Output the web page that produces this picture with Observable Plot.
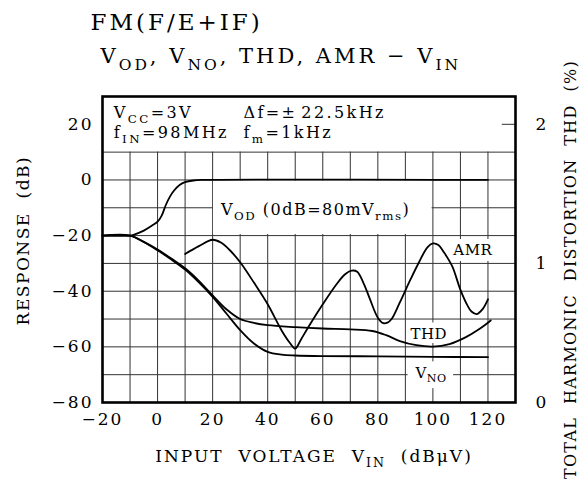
<!DOCTYPE html>
<html><head><meta charset="utf-8">
<script src="https://cdn.jsdelivr.net/npm/d3@7"></script>
<script src="https://cdn.jsdelivr.net/npm/@observablehq/plot@0.6"></script>
<style>
body{margin:0;background:#fff}
#chart svg{display:block}
#chart svg text{fill:#000;font-family:"DejaVu Serif",serif}
g[aria-label="x-axis tick label"] text, g[aria-label="y-axis tick label"] text{font-size:17px;letter-spacing:2px}
</style></head><body><div id="chart"></div>
<script>
// ---- data ----
const vinOD = [-20,-10,-9,-5,-2,0,1.5,3,4.5,6,8,10,13,16,120];
const vod   = [-20,-20,-19.8,-18.2,-16.4,-15,-12.8,-9,-6,-3.8,-1.8,-0.8,-0.2,0,0];

const vinNO = [-20,-10,-5,0,5,10,15,20,25,30,35,40,45,50,60,80,100,120];
const vno   = [-20,-20,-22.3,-25.3,-28.6,-32.2,-36.8,-42,-48,-54,-58.8,-61.8,-62.8,-63.1,-63.3,-63.4,-63.6,-63.7];

const vinTHD = [-20,-10,-5,0,5,10,15,20,25,30,35,40,50,60,70,78,83,88,94,100,106,112,117,121];
const thdPct = [1.2,1.2,1.155,1.1,1.035,0.965,0.875,0.77,0.67,0.60,0.572,0.556,0.542,0.532,0.526,0.514,0.484,0.442,0.412,0.402,0.42,0.47,0.53,0.59];

const vinAMR = [10,15,20,23,26,30,35,40,45,48,50,52,55,60,65,68,70.5,72.5,75,77,80,82,83.5,85,88,92,95,98,100,102,104,107,110,112.5,114,116,118,120];
const amr    = [-26.6,-23.8,-21.5,-22.5,-25,-29.6,-36.9,-44.7,-54,-58.5,-60.6,-57.5,-52.5,-44.7,-37.5,-34,-32.6,-33,-37.5,-42.5,-49.5,-51.5,-51.3,-50,-44,-35.5,-29.5,-24.2,-22.8,-23.4,-26,-31,-39.5,-45,-47.3,-48.2,-46.5,-42.9];

const xTicks = [-20,0,20,40,60,80,100,120];
const yTicks = [-80,-60,-40,-20,0,20];
const thdTicks = [0,1,2];
const gridX = [-10,0,10,20,30,40,50,60,70,80,90,100,110,120];
const gridY = [-70,-60,-50,-40,-30,-20,-10,0,10];

const thdToDb = p => -80 + 50 * p;   // right axis: 0 % at -80 dB, 2 % at +20 dB

// white backgrounds behind the in-plot labels
const boxes = [
  {x1:20.3, x2:99.7, y1:-19.6, y2:-0.4},
  {x1:107.3, x2:121.9, y1:-21.4, y2:-29.3},
  {x1:91, x2:106.5, y1:-51.4, y2:-58.8},
  {x1:91, x2:107.5, y1:-65.4, y2:-75}
];
const curveLabels = [
  {x:114.5, y:-25.3, t:"AMR"},
  {x:98.5, y:-55.5, t:"THD"},
  {x:99.3, y:-69.3, t:"V_{NO}"}
];
const conditions = [
  {x:-15.9, y:24.1, t:"V_{CC}=3V"},
  {x:-15.9, y:16.9, t:"f_{IN}=98MHz"},
  {x:31.2, y:24.1, t:"\u0394f=\u00b1\u200a22.5kHz"},
  {x:31.2, y:16.9, t:"f_{m}=1kHz"}
];
const titleText = "FM(F/E+IF)";
const subtitleText = "V_{OD}, V_{NO}, THD, AMR \u2212 V_{IN}";
const vodLabel = "V_{OD} (0dB=80mV_{rms})";
const xTitle = "INPUT\u00a0\u00a0VOLTAGE\u00a0\u00a0V_{IN}\u00a0\u00a0(dB\u03bcV)";
const yTitle = "RESPONSE\u00a0\u00a0(dB)";
const y2Title = "TOTAL\u00a0\u00a0HARMONIC\u00a0\u00a0DISTORTION\u00a0\u00a0THD\u00a0\u00a0(%)";

const chart = Plot.plot({
  width: 580, height: 482,
  marginLeft: 102, marginRight: 65, marginTop: 96, marginBottom: 80,
  style: {fontFamily: "DejaVu Serif", fontSize: "16px", background: "#fff", overflow: "visible"},
  x: {domain: [-20, 130], label: null},
  y: {domain: [-80, 30], label: null},
  marks: [
    Plot.ruleX(gridX, {y1: -80, y2: 10, stroke: "#333", strokeWidth: 1}),
    Plot.ruleY(gridY, {x1: -20, x2: 130, stroke: "#333", strokeWidth: 1}),
    Plot.rect(boxes, {x1: "x1", x2: "x2", y1: "y1", y2: "y2", fill: "#fff"}),
    Plot.ruleY([20], {x1: 125.2, x2: 130, stroke: "#333", strokeWidth: 1}),
    Plot.line(vod, {x: vinOD, y: vod, curve: "catmull-rom", stroke: "#000", strokeWidth: 1.8}),
    Plot.line(vno, {x: vinNO, y: vno, curve: "catmull-rom", stroke: "#000", strokeWidth: 1.8}),
    Plot.line(thdPct, {x: vinTHD, y: thdPct.map(thdToDb), curve: "catmull-rom", stroke: "#000", strokeWidth: 1.8}),
    Plot.line(amr, {x: vinAMR, y: amr, curve: "catmull-rom", stroke: "#000", strokeWidth: 1.8}),
    Plot.frame({stroke: "#000", strokeWidth: 2.6}),
    Plot.axisX({ticks: xTicks, tickSize: 0, tickPadding: 10, label: null}),
    Plot.axisY({ticks: yTicks, tickSize: 0, tickPadding: 9, label: null}),
    Plot.axisY({anchor: "right", ticks: thdTicks.map(thdToDb), tickFormat: d => String(Math.round((d + 80) / 50)), tickSize: 0, tickPadding: 20, label: null}),
    Plot.text(curveLabels, {x: "x", y: "y", text: "t", fontSize: 15}),
    Plot.text(conditions, {x: "x", y: "y", text: "t", textAnchor: "start", fontSize: 16}),
    Plot.text([vodLabel], {x: 57.4, y: -10.8, fontSize: 16}),
    Plot.text([titleText], {frameAnchor: "top-left", dx: -12, dy: -74, textAnchor: "start", lineAnchor: "middle", fontSize: 23}),
    Plot.text([subtitleText], {frameAnchor: "top-left", dx: -2, dy: -40, textAnchor: "start", lineAnchor: "middle", fontSize: 21}),
    Plot.text([xTitle], {frameAnchor: "bottom", dx: 5, dy: 54, lineAnchor: "middle", fontSize: 17}),
    Plot.text([yTitle], {x: -48.7, y: -21.8, rotate: -90, fontSize: 17}),
    Plot.text([y2Title], {x: 150.2, y: -32.2, rotate: -90, fontSize: 16})
  ]
});
document.getElementById("chart").append(chart);

// letter spacing per text, then "_{...}" into real subscript tspans
const spacing = new Map([
  [titleText, 3], [subtitleText, 3], [vodLabel, 1.5], [xTitle, 2], [yTitle, 1.5], [y2Title, 1.3],
  ...conditions.map(c => [c.t, 2.4]), ...curveLabels.map(c => [c.t, 0.5])
]);
d3.select(chart).selectAll("text").each(function() {
  const t = this.textContent;
  if (spacing.has(t)) this.style.letterSpacing = spacing.get(t) + "px";
  if (!t.includes("_{")) return;
  const fs = parseFloat(getComputedStyle(this).fontSize) || 16;
  const shift = fs * 0.3;
  const parts = t.split(/(_\{[^}]*\})/);
  const el = d3.select(this);
  el.text(null);
  let pending = 0;
  for (const p of parts) {
    if (!p) continue;
    if (p.startsWith("_{")) {
      el.append("tspan").attr("dy", shift).attr("font-size", "0.74em").text(p.slice(2, -1));
      pending = -shift;
    } else {
      const ts = el.append("tspan").text(p);
      if (pending) ts.attr("dy", pending);
      pending = 0;
    }
  }
});
</script></body></html>
